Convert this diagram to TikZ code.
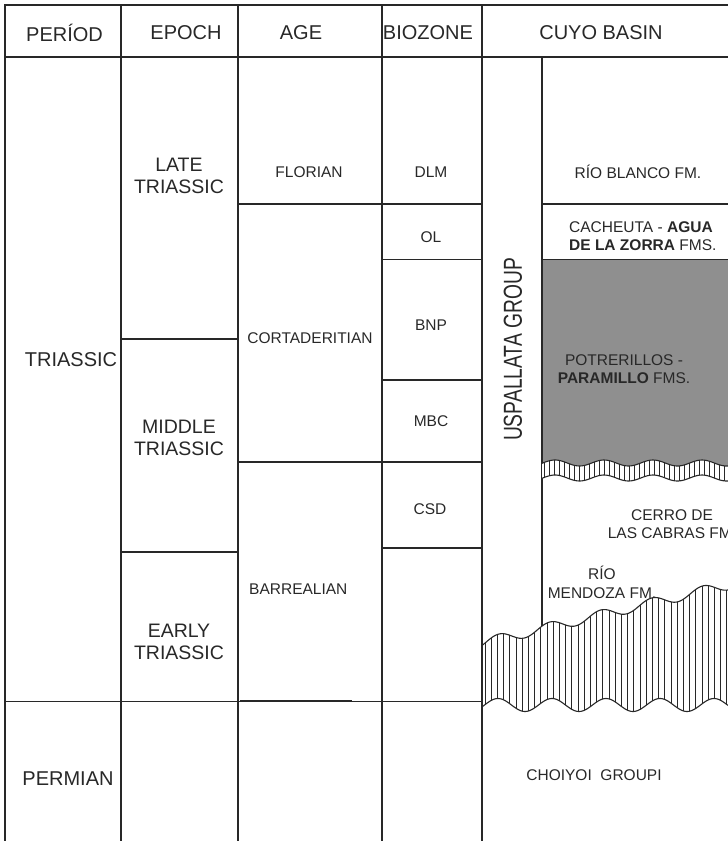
\documentclass[tikz,border=0pt]{standalone}
\usepackage{fontspec}
\setmainfont{Liberation Sans}
\definecolor{grayfill}{RGB}{143,143,143}
\definecolor{ink}{RGB}{40,40,40}
\begin{document}
\begin{tikzpicture}[x=1pt,y=-1pt,
  gridline/.style={draw=ink, line width=1.1pt},
  hatchline/.style={draw=ink, line width=0.9pt},
  hd/.style={font=\fontsize{20}{22}\selectfont, text=ink, inner sep=0pt},
  per/.style={font=\fontsize{20}{22}\selectfont, text=ink, inner sep=0pt, align=center},
  epo/.style={font=\fontsize{19.5}{22}\selectfont, text=ink, inner sep=0pt, align=center},
  bd/.style={font=\fontsize{15.5}{18.5}\selectfont, text=ink, inner sep=0pt, align=center},
]
\useasboundingbox (0,0) rectangle (728,841);
\clip (0,0) rectangle (728,841);
\fill[white] (0,0) rectangle (728,841);

% gray Potrerillos field
\fill[grayfill] (542,259.5) -- (728,259.5) -- plot[domain=728:542,samples=80] (\x,{463-3*cos((\x-555)/49*360)}) -- cycle;

% column line at 542 (ends under the big band)
\draw[gridline] (542,57) -- (542,640);

% small hatched band
\path[fill=white] plot[domain=542:728,samples=80] (\x,{463-3*cos((\x-555)/49*360)}) -- plot[domain=728:542,samples=80] (\x,{478-3*cos((\x-555)/49*360)}) -- cycle;
\begin{scope}
  \clip plot[domain=542:728,samples=80] (\x,{463-3*cos((\x-555)/49*360)}) -- plot[domain=728:542,samples=80] (\x,{478-3*cos((\x-555)/49*360)}) -- cycle;
  \foreach \i in {0,...,38} \draw[hatchline] (544.5+\i*5,450) -- (544.5+\i*5,490);
\end{scope}
\draw[gridline] plot[domain=542:728,samples=80] (\x,{463-3*cos((\x-555)/49*360)});
\draw[gridline] plot[domain=542:728,samples=80] (\x,{478-3*cos((\x-555)/49*360)});

% big hatched band (unconformity)
\path[fill=white] plot[domain=482:728,samples=140] (\x,{643-(\x-482)*0.236-5*cos((\x-550)/51*360)}) -- plot[domain=728:482,samples=140] (\x,{705-6.5*cos((\x-552)/54*360)}) -- cycle;
\begin{scope}
  \clip plot[domain=482:728,samples=140] (\x,{643-(\x-482)*0.236-5*cos((\x-550)/51*360)}) -- plot[domain=728:482,samples=140] (\x,{705-6.5*cos((\x-552)/54*360)}) -- cycle;
  \foreach \i in {0,...,40} \draw[hatchline] (485+\i*6.2,570) -- (485+\i*6.2,720);
\end{scope}
\draw[gridline] plot[domain=482:728,samples=140] (\x,{643-(\x-482)*0.236-5*cos((\x-550)/51*360)});
\draw[gridline] plot[domain=482:728,samples=140] (\x,{705-6.5*cos((\x-552)/54*360)});

% table frame and rules
\draw[draw=ink, line width=1.6pt] (5,5) -- (728,5);
\draw[draw=ink, line width=2.4pt] (5,4.2) -- (5,841);
\draw[gridline] (5,57) -- (728,57);
\draw[gridline] (121,5) -- (121,841);
\draw[gridline] (238,5) -- (238,841);
\draw[gridline] (382,5) -- (382,841);
\draw[gridline] (482,5) -- (482,841);
% epoch
\draw[gridline] (121,339) -- (238,339);
\draw[gridline] (121,552) -- (238,552);
% age + biozone
\draw[gridline] (238,204) -- (482,204);
\draw[gridline] (238,462) -- (482,462);
\draw[gridline] (382,259.5) -- (482,259.5);
\draw[gridline] (382,380) -- (482,380);
\draw[gridline] (382,548) -- (482,548);
% Permian boundary
\draw[gridline] (5,701.5) -- (482,701.5);
\draw[draw=ink, line width=0.8pt] (240,700.2) -- (352,700.2);
% Cuyo basin formations
\draw[gridline] (542,204) -- (728,204);
\draw[gridline] (542,259.5) -- (728,259.5);

% header
\node[hd] (hper) at (64.5,33) {PERÍOD};
\node[hd] (hepo) at (186,33) {EPOCH};
\node[hd] (hage) at (301,33) {AGE};
\node[hd] (hbio) at (428,33) {BIOZONE};
\node[hd] (hcuy) at (601,33) {CUYO BASIN};

% period
\node[per] (tri) at (71,360) {TRIASSIC};
\node[per] (perm) at (68,779) {PERMIAN};

% epoch
\node[epo] (late) at (179,176) {LATE\\TRIASSIC};
\node[epo] (mid) at (179,438) {MIDDLE\\TRIASSIC};
\node[epo] (early) at (179,642) {EARLY\\TRIASSIC};

% age
\node[bd] (flo) at (309,172) {FLORIAN};
\node[bd] (cor) at (310,338) {CORTADERITIAN};
\node[bd, anchor=west] (bar) at (249,589) {BARREALIAN};

% biozone
\node[bd] (dlm) at (431,172) {DLM};
\node[bd] (ol) at (431,237) {OL};
\node[bd] (bnp) at (431,325) {BNP};
\node[bd] (mbc) at (431,421) {MBC};
\node[bd] (csd) at (430,509) {CSD};

% Cuyo basin
\node[rotate=90, font=\fontsize{26}{28}\selectfont, text=ink, inner sep=0pt] (usp) at (513,349.5) {\scalebox{0.74}[1]{USPALLATA GROUP}};
\node[bd] (rbl) at (638,172) {RÍO BLANCO FM.};
\node[bd, align=left, anchor=west] (cach) at (569,236) {CACHEUTA - \textbf{AGUA}\\\textbf{DE LA ZORRA} FMS.};
\node[bd] (potr) at (624,369) {POTRERILLOS -\\\textbf{PARAMILLO} FMS.};
\node[bd] (cerro) at (672,524) {CERRO DE\\LAS CABRAS FM.};
\node[bd] (rmen) at (602,582.5) {RÍO\\MENDOZA FM.};
\node[bd] (choi) at (594,775) {CHOIYOI\ \ GROUPI};
\end{tikzpicture}
\end{document}
